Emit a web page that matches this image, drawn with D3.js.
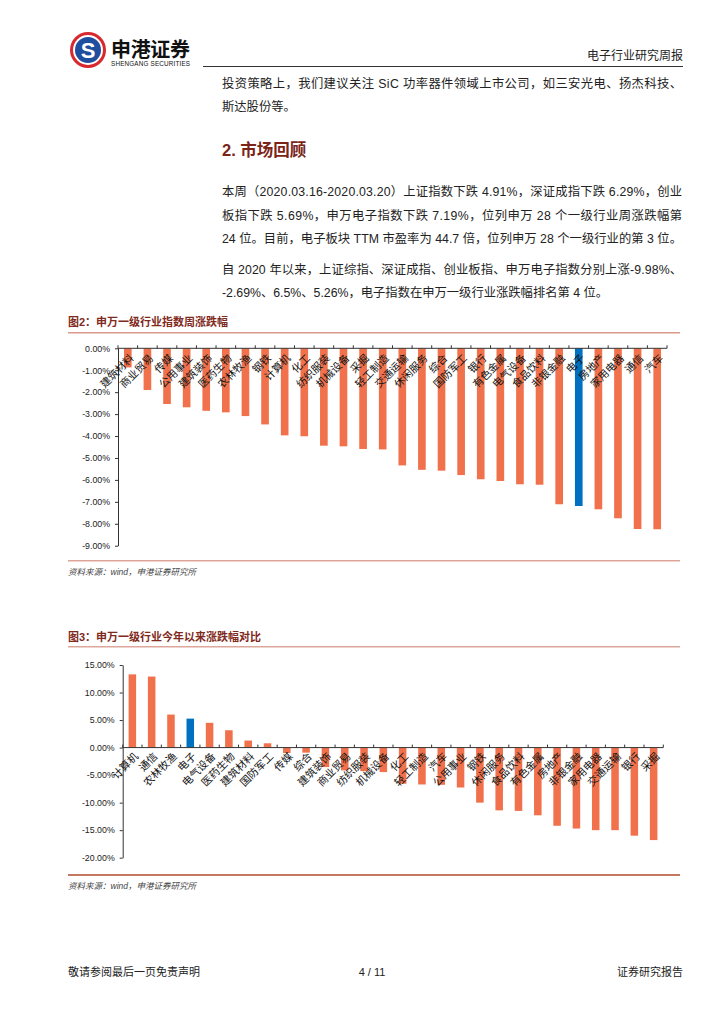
<!DOCTYPE html>
<html><head><meta charset="utf-8">
<script src="https://cdn.jsdelivr.net/npm/d3@7"></script>
<style>
html,body{margin:0;padding:0;background:#fff;}
svg{display:block;}
text{font-family:"Liberation Sans","Noto Sans CJK SC",sans-serif;}
</style></head>
<body>
<svg id="page" width="724" height="1024"></svg>
<script>
// ---------- data ----------
const cats1 = ["建筑材料","商业贸易","传媒","公用事业","建筑装饰","医药生物","农林牧渔","钢铁","计算机","化工","纺织服装","机械设备","采掘","轻工制造","交通运输","休闲服务","综合","国防军工","银行","有色金属","电气设备","食品饮料","非银金融","电子","房地产","家用电器","通信","汽车"];
const vals1 = [-0.87,-1.90,-2.54,-2.69,-2.85,-2.92,-3.09,-3.47,-3.97,-4.01,-4.44,-4.47,-4.59,-4.61,-5.34,-5.54,-5.58,-5.78,-5.97,-6.05,-6.20,-6.22,-7.11,-7.19,-7.34,-7.75,-8.24,-8.25];
const ticks1 = [0,-1,-2,-3,-4,-5,-6,-7,-8,-9];

const cats2 = ["计算机","通信","农林牧渔","电子","电气设备","医药生物","建筑材料","国防军工","传媒","综合","建筑装饰","商业贸易","纺织服装","机械设备","化工","轻工制造","汽车","公用事业","钢铁","休闲服务","食品饮料","有色金属","房地产","非银金融","家用电器","交通运输","银行","采掘"];
const vals2 = [13.3,12.9,6.0,5.26,4.5,3.15,1.28,0.78,-0.98,-0.92,-3.54,-4.14,-4.27,-4.45,-6.57,-6.70,-6.76,-7.25,-10.0,-11.4,-11.5,-12.3,-14.2,-14.7,-15.0,-15.0,-16.0,-16.8];
const ticks2 = [15,10,5,0,-5,-10,-15,-20];

const highlight = "电子";

// ---------- page ----------
const svg = d3.select("#page");
const ORANGE = "#F0714B", BLUE = "#0070C0";
const TXT = "#222";

// header logo
const logo = svg.append("g").attr("transform","translate(88,50)");
logo.append("circle").attr("r",18).attr("fill","#D7282F");
logo.append("circle").attr("r",15).attr("fill","#fff");
logo.append("circle").attr("r",13).attr("fill","#1F4E9E");
logo.append("text").attr("text-anchor","middle").attr("y",8).attr("font-size",22).attr("font-weight","bold").attr("fill","#fff").text("S");
svg.append("text").attr("x",111).attr("y",57).attr("font-size",20).attr("font-weight","bold").attr("fill","#111")
  .attr("font-family","'Noto Sans CJK SC'").attr("textLength",79).text("申港证券");
svg.append("text").attr("x",111).attr("y",66).attr("font-size",6.3).attr("fill","#111").attr("textLength",79).text("SHENGANG SECURITIES");
svg.append("text").attr("x",683).attr("y",60).attr("text-anchor","end").attr("font-size",12).attr("fill",TXT).text("电子行业研究周报");
svg.append("line").attr("x1",203).attr("x2",683).attr("y1",66.5).attr("y2",66.5).attr("stroke","#333").attr("stroke-width",1);

// body text
const bodyLines = [
  {t:"投资策略上，我们建议关注 SiC 功率器件领域上市公司，如三安光电、扬杰科技、", y:88, j:true},
  {t:"斯达股份等。", y:111, j:false},
  {t:"本周（2020.03.16-2020.03.20）上证指数下跌 4.91%，深证成指下跌 6.29%，创业", y:196, j:true},
  {t:"板指下跌 5.69%，申万电子指数下跌 7.19%，位列申万 28 个一级行业周涨跌幅第", y:220, j:true},
  {t:"24 位。目前，电子板块 TTM 市盈率为 44.7 倍，位列申万 28 个一级行业的第 3 位。", y:243, j:true},
  {t:"自 2020 年以来，上证综指、深证成指、创业板指、申万电子指数分别上涨-9.98%、", y:274, j:true},
  {t:"-2.69%、6.5%、5.26%，电子指数在申万一级行业涨跌幅排名第 4 位。", y:297, j:false}
];
bodyLines.forEach(l=>{
  const t = svg.append("text").attr("x",222).attr("y",l.y).attr("font-size",12.3).attr("fill",TXT).text(l.t);
  if(l.j) t.attr("textLength",460).attr("lengthAdjust","spacing");
});
svg.append("text").attr("x",222).attr("y",156).attr("font-size",16.5).attr("font-weight","bold").attr("fill","#7A2417").text("2. 市场回顾");

// footer
svg.append("text").attr("x",68).attr("y",976).attr("font-size",11).attr("fill",TXT).text("敬请参阅最后一页免责声明");
svg.append("text").attr("x",372).attr("y",976).attr("text-anchor","middle").attr("font-size",11).attr("fill",TXT).text("4 / 11");
svg.append("text").attr("x",683).attr("y",976).attr("text-anchor","end").attr("font-size",11).attr("fill",TXT).text("证券研究报告");

// ---------- chart helper ----------
function drawChart(o){
  const g = svg.append("g");
  g.append("text").attr("x",68).attr("y",o.titleY).attr("font-size",11).attr("font-weight","bold").attr("fill","#7F2A1C").text(o.title);
  g.append("line").attr("x1",68).attr("x2",680).attr("y1",o.topLine).attr("y2",o.topLine).attr("stroke",o.topColor).attr("stroke-width",1.6);
  g.append("line").attr("x1",68).attr("x2",680).attr("y1",o.botLine).attr("y2",o.botLine).attr("stroke",o.botColor).attr("stroke-width",1.6);
  g.append("text").attr("x",68).attr("y",o.botLine+14).attr("font-size",8.5).attr("font-style","italic").attr("fill","#444").text("资料来源：wind，申港证券研究所");

  const y = d3.scaleLinear().domain(o.domain).range(o.yRange);
  const x = d3.scaleBand().domain(o.cats).range(o.xRange).paddingInner(0.61).paddingOuter(0.305);
  const y0 = y(0);

  // bars
  g.selectAll("rect.bar").data(o.vals).join("rect")
    .attr("x",(d,i)=>x(o.cats[i])).attr("width",x.bandwidth())
    .attr("y",d=>Math.min(y(d),y0)).attr("height",d=>Math.abs(y(d)-y0))
    .attr("fill",(d,i)=>o.cats[i]===highlight?BLUE:ORANGE);

  // y axis
  const ya = g.append("g").attr("transform",`translate(${o.xRange[0]},0)`)
    .call(d3.axisLeft(y).tickValues(o.ticks).tickFormat(d=>d.toFixed(2)+"%").tickSize(3).tickSizeOuter(0));
  ya.select(".domain").attr("stroke","#333");
  ya.selectAll(".tick line").attr("stroke","#333");
  ya.selectAll(".tick text").attr("font-size",8.8).attr("fill","#222").attr("x",-8)
    .attr("font-family","'Liberation Sans',Arial,sans-serif");

  // x axis line with boundary ticks (upwards)
  const step = x.step();
  const bounds = d3.range(o.cats.length+1).map(i=>x(o.cats[0]) - x.paddingOuter()*step + i*step);
  g.append("line").attr("x1",o.xRange[0]).attr("x2",o.xRange[1]).attr("y1",y0).attr("y2",y0).attr("stroke","#333");
  g.selectAll("line.xt").data(bounds).join("line").attr("class","xt")
    .attr("x1",d=>d).attr("x2",d=>d).attr("y1",y0).attr("y2",y0-3).attr("stroke","#333");

  // category labels
  g.selectAll("text.cl").data(o.cats).join("text").attr("class","cl")
    .attr("transform",d=>`translate(${x(d)+x.bandwidth()/2+o.lx},${y0+o.ly}) rotate(-45)`)
    .attr("text-anchor","end").attr("dy","0.35em").attr("font-size",10.5).attr("fill","#111")
    .attr("font-family","'Noto Sans CJK SC',sans-serif")
    .text(d=>d);
}

drawChart({
  title:"图2：申万一级行业指数周涨跌幅", titleY:326, topLine:332.7, botLine:560.7,
  topColor:"#DB9A8C", botColor:"#DDA597",
  cats:cats1, vals:vals1, ticks:ticks1, domain:[0,-9], yRange:[348.3,545.7], xRange:[118,667],
  lx:4, ly:8
});
drawChart({
  title:"图3：申万一级行业今年以来涨跌幅对比", titleY:641, topLine:646.7, botLine:875,
  topColor:"#DDA69B", botColor:"#B04A2C",
  cats:cats2, vals:vals2, ticks:ticks2, domain:[15,-20], yRange:[665,857.7], xRange:[122.7,663.3],
  lx:4, ly:7
});
</script>
</body></html>
